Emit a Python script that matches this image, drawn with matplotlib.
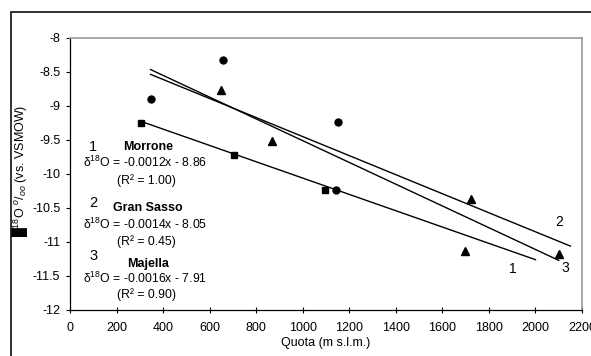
import matplotlib
matplotlib.use("Agg")
import matplotlib.pyplot as plt
import numpy as np
from matplotlib.patches import Rectangle

plt.rcParams['font.family'] = ['Liberation Sans', 'DejaVu Sans']
plt.rcParams['mathtext.fontset'] = 'custom'
plt.rcParams['mathtext.rm'] = 'Liberation Sans'
plt.rcParams['mathtext.it'] = 'Liberation Sans:italic'
plt.rcParams['mathtext.bf'] = 'Liberation Sans:bold'

# Data: Morrone (squares), Gran Sasso (circles), Majella (triangles)
morrone_x = [303, 703, 1096]
morrone_y = [-9.25, -9.72, -10.23]
gransasso_x = [346, 659, 1151, 1141]
gransasso_y = [-8.90, -8.33, -9.24, -10.23]
majella_x = [647, 867, 1721, 1698, 2100]
majella_y = [-8.76, -9.51, -10.37, -11.13, -11.17]

# Trend lines: slope, intercept, x-range, label number
names = ["Morrone", "Gran Sasso", "Majella"]
slopes = [-0.0012, -0.0014, -0.0016]
intercepts = [-8.86, -8.05, -7.91]
r2 = ["1.00", "0.45", "0.90"]
line_x0 = [300, 346, 346]
line_x1 = [2000, 2150, 2100]
line_label_pos = [(1902, -11.40), (2101, -10.71), (2130, -11.38)]

x_ticks = list(range(0, 2201, 200))
y_ticks = [-12, -11.5, -11, -10.5, -10, -9.5, -9, -8.5, -8]

W, H = 591, 356
fig = plt.figure(figsize=(W / 100, H / 100), dpi=100)
ax = fig.add_axes([70 / W, (H - 310) / H, 512 / W, 272 / H])

# outer frame
fig.patches.append(Rectangle((11 / W, -0.2), 1.2, (H - 12) / H + 0.2,
                             transform=fig.transFigure, fill=False,
                             edgecolor='#222222', lw=1.3, clip_on=False))

for i in range(3):
    xs = np.array([line_x0[i], line_x1[i]])
    ax.plot(xs, slopes[i] * xs + intercepts[i], color='black', lw=1.0, zorder=2)
    ax.text(line_label_pos[i][0], line_label_pos[i][1], str(i + 1),
            fontsize=10, ha='center', va='center')

ax.plot(morrone_x, morrone_y, 's', color='black', ms=5, zorder=3)
ax.plot(gransasso_x, gransasso_y, 'o', color='black', ms=5, zorder=3)
ax.plot(majella_x, majella_y, '^', color='black', ms=5.5, zorder=3)

# annotation block
num_y = [-9.60, -10.43, -11.21]
name_y = [-9.60, -10.50, -11.32]
eq_y = [-9.83, -10.74, -11.54]
r2_y = [-10.10, -11.00, -11.78]
for i in range(3):
    ax.text(99, num_y[i], str(i + 1), fontsize=10.5, ha='center', va='center')
    ax.text(335, name_y[i], names[i], fontsize=9, fontweight='bold',
            ha='center', va='center')
    ax.text(324, eq_y[i],
            "δ$^{18}$O = %.4fx - %.2f" % (slopes[i], -intercepts[i]),
            fontsize=8.8, ha='center', va='center')
    ax.text(327, r2_y[i], "(R² = %s)" % r2[i], fontsize=8.8,
            ha='center', va='center')

ax.set_xlim(0, 2200)
ax.set_ylim(-12, -8)
ax.set_xticks(x_ticks)
ax.set_xticklabels([str(v) for v in x_ticks])
ax.set_yticks(y_ticks)
ax.set_yticklabels([("%g" % v) for v in y_ticks])
ax.tick_params(axis='x', direction='inout', length=4, labelsize=9, pad=6.5, width=0.8)
ax.tick_params(axis='y', direction='out', length=3, labelsize=9, pad=4, width=0.8)
for s in ['top', 'right']:
    ax.spines[s].set_color('#999999')
    ax.spines[s].set_linewidth(1.2)
for s in ['left', 'bottom']:
    ax.spines[s].set_color('black')
    ax.spines[s].set_linewidth(0.9)

ax.set_xlabel("Quota (m s.l.m.)", fontsize=9, labelpad=2.5)
fig.text(20 / W, (H - 171) / H, "█$^{18}$O $^{o}/_{oo}$ (vs. VSMOW)",
         rotation=90, fontsize=9, ha='center', va='center',
         family=['Liberation Sans', 'DejaVu Sans'])

fig.savefig("out.png", dpi=100)
